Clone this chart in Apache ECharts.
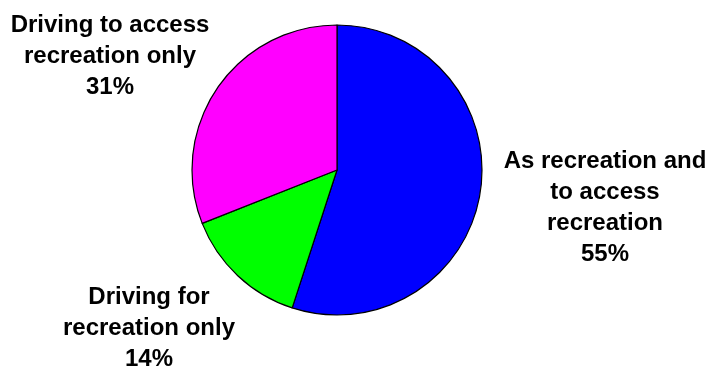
<!DOCTYPE html>
<html>
<head>
<meta charset="utf-8">
<script src="https://cdn.jsdelivr.net/npm/echarts@6/dist/echarts.min.js"></script>
<style>
  html, body { margin: 0; padding: 0; background: #fff; }
  #chart { width: 707px; height: 367px; }
</style>
</head>
<body>
<div id="chart"></div>
<script>
// Share of driving trips by purpose
const categories = [
  'As recreation and\nto access\nrecreation',
  'Driving for\nrecreation only',
  'Driving to access\nrecreation only'
];
const shares = [55, 14, 31];
const sliceColors = ['#0000ff', '#00ff00', '#ff00ff'];

// Where each label block is centred (pixels)
const labelCenters = [[605, 208], [149, 328], [110, 56]];

const chart = echarts.init(document.getElementById('chart'), null, { renderer: 'canvas' });

chart.setOption({
  animation: false,
  backgroundColor: '#ffffff',
  series: [{
    type: 'pie',
    center: [337, 170],
    radius: 145,
    startAngle: 90,
    clockwise: true,
    avoidLabelOverlap: false,
    data: categories.map((name, i) => ({
      name: name,
      value: shares[i],
      itemStyle: { color: sliceColors[i] }
    })),
    itemStyle: { borderColor: '#000000', borderWidth: 1.2 },
    emphasis: { disabled: true },
    label: {
      show: true,
      position: 'outside',
      formatter: p => p.name + '\n' + p.value + '%',
      fontFamily: 'Liberation Sans, Arial, sans-serif',
      fontWeight: 'bold',
      fontSize: 24,
      lineHeight: 31,
      color: '#000000',
      align: 'center'
    },
    labelLine: { show: false },
    labelLayout: p => ({
      x: labelCenters[p.dataIndex][0],
      y: labelCenters[p.dataIndex][1],
      align: 'center',
      verticalAlign: 'middle'
    })
  }]
});
</script>
</body>
</html>
